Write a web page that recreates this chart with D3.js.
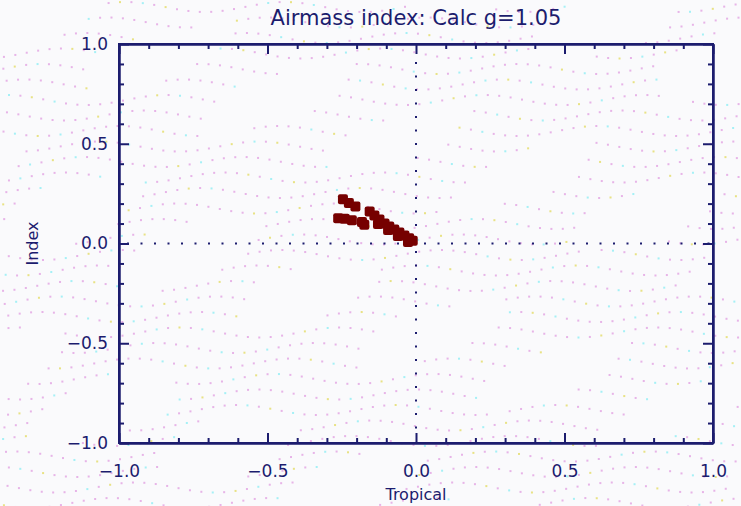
<!DOCTYPE html>
<html>
<head>
<meta charset="utf-8">
<script src="https://cdn.jsdelivr.net/npm/d3@7"></script>
<style>
  html, body { margin: 0; padding: 0; background: #fafafc; }
  svg { display: block; }
  text { font-family: "DejaVu Sans", sans-serif; fill: #1c1c6e; }
</style>
</head>
<body>
<svg id="chart" width="741" height="506"></svg>
<script>
// Tropical vs Index samples (airmass calculation, g = 1.05)
const tropical = [-0.246, -0.226, -0.204, -0.262, -0.240, -0.216, -0.182, -0.174, -0.156, -0.140,
                  -0.123, -0.128, -0.106, -0.090, -0.094, -0.073, -0.056, -0.061, -0.039,
                  -0.023, -0.027, -0.011];
const indexVals = [0.222, 0.203, 0.185, 0.127, 0.124, 0.116, 0.108, 0.094, 0.160, 0.140,
                   0.120, 0.098, 0.100, 0.085, 0.068, 0.070, 0.055, 0.038, 0.040,
                   0.026, 0.008, 0.014];
const xTicks = [-1.0, -0.5, 0.0, 0.5, 1.0];
const yTicks = [-1.0, -0.5, 0.0, 0.5, 1.0];
const titleText = "Airmass index: Calc g=1.05";
const xLabel = "Tropical";
const yLabel = "Index";

const W = 741, H = 506;
const frame = { left: 119, right: 713, top: 44, bottom: 443 };
const ink = "#1c1c6e";

const svg = d3.select("#chart");

// pastel stipple texture behind everything
const stipple = svg.append("g");
const stippleDots = [];
for (let r = 0; r < 34; r++) {
  for (let c = 0; c < 66; c++) {
    const x = 5 + c * 11.4 + 3 * Math.sin(r * 1.3);
    const y = 6 + r * 15.5 + 5 * Math.sin(c * 0.45 + r * 0.8);
    const w = Math.sin(c * 0.37 + r * 0.91) + Math.cos(c * 0.13 - r * 0.53);
    if (w > 0.6) continue;
    let col = "#e2a2e2";
    const k = Math.sin(c * 1.7 + r * 2.3);
    if (k > 0.93) col = "#90eef4";
    else if (k < -0.96) col = "#e4dc66";
    stippleDots.push({ x, y, col });
  }
}
stipple.selectAll("rect").data(stippleDots).join("rect")
  .attr("x", d => d.x).attr("y", d => d.y)
  .attr("width", 2).attr("height", 2)
  .attr("fill", d => d.col).attr("opacity", 0.8);

const x = d3.scaleLinear().domain([-1, 1]).range([frame.left, frame.right]);
const y = d3.scaleLinear().domain([-1, 1]).range([frame.bottom, frame.top]);

// dotted zero lines
const zero = svg.append("g").attr("fill", ink);
zero.selectAll("rect.h").data(d3.range(frame.left + 8, frame.right - 4, 13.5)).join("rect")
  .attr("class", "h").attr("x", d => d).attr("y", y(0) - 1).attr("width", 2).attr("height", 2);
zero.selectAll("rect.v").data(d3.range(frame.top + 18, frame.bottom - 4, 13.5)).join("rect")
  .attr("class", "v").attr("x", x(0) - 1).attr("y", d => d).attr("width", 2).attr("height", 2);

// data points
svg.append("g").selectAll("rect").data(tropical.map((t, i) => [t, indexVals[i]])).join("rect")
  .attr("x", d => x(d[0]) - 5).attr("y", d => y(d[1]) - 5)
  .attr("width", 10).attr("height", 10).attr("rx", 2)
  .attr("fill", "#760000");

// axes (ticks point inward, minor ticks every 0.1)
const fmt = d3.format(".1f");
const minor = d3.range(-10, 11).map(v => v / 10).filter(v => Math.abs(v * 2 - Math.round(v * 2)) > 1e-6);

function styleAxis(g) {
  g.selectAll("path.domain").attr("stroke", ink).attr("stroke-width", 2);
  g.selectAll(".tick line").attr("stroke", ink).attr("stroke-width", 2);
  g.selectAll(".tick text").attr("font-size", 17).attr("fill", ink)
    .text(function () { return d3.select(this).text().replace("−", "\u2212"); });
}

const gxb = svg.append("g").attr("transform", `translate(0,${frame.bottom})`)
  .call(d3.axisBottom(x).tickValues(xTicks).tickFormat(fmt).tickSize(-10).tickPadding(22).tickSizeOuter(0));
styleAxis(gxb);
const gxbm = svg.append("g").attr("transform", `translate(0,${frame.bottom})`)
  .call(d3.axisBottom(x).tickValues(minor).tickFormat("").tickSize(-5).tickSizeOuter(0));
styleAxis(gxbm);
const gxt = svg.append("g").attr("transform", `translate(0,${frame.top})`)
  .call(d3.axisTop(x).tickValues(xTicks).tickFormat("").tickSize(-10).tickSizeOuter(0));
styleAxis(gxt);
const gxtm = svg.append("g").attr("transform", `translate(0,${frame.top})`)
  .call(d3.axisTop(x).tickValues(minor).tickFormat("").tickSize(-5).tickSizeOuter(0));
styleAxis(gxtm);

const gyl = svg.append("g").attr("transform", `translate(${frame.left},0)`)
  .call(d3.axisLeft(y).tickValues(yTicks).tickFormat(fmt).tickSize(-10).tickPadding(11).tickSizeOuter(0));
styleAxis(gyl);
const gylm = svg.append("g").attr("transform", `translate(${frame.left},0)`)
  .call(d3.axisLeft(y).tickValues(minor).tickFormat("").tickSize(-5).tickSizeOuter(0));
styleAxis(gylm);
const gyr = svg.append("g").attr("transform", `translate(${frame.right},0)`)
  .call(d3.axisRight(y).tickValues(yTicks).tickFormat("").tickSize(-10).tickSizeOuter(0));
styleAxis(gyr);
const gyrm = svg.append("g").attr("transform", `translate(${frame.right},0)`)
  .call(d3.axisRight(y).tickValues(minor).tickFormat("").tickSize(-5).tickSizeOuter(0));
styleAxis(gyrm);

// frame outline
svg.append("rect")
  .attr("x", frame.left).attr("y", frame.top)
  .attr("width", frame.right - frame.left).attr("height", frame.bottom - frame.top)
  .attr("fill", "none").attr("stroke", ink).attr("stroke-width", 2);

// titles
svg.append("text").attr("x", (frame.left + frame.right) / 2).attr("y", 25)
  .attr("text-anchor", "middle").attr("font-size", 21).text(titleText);
svg.append("text").attr("x", (frame.left + frame.right) / 2).attr("y", 500)
  .attr("text-anchor", "middle").attr("font-size", 16).text(xLabel);
svg.append("text").attr("transform", `translate(38,${y(0)}) rotate(-90)`)
  .attr("text-anchor", "middle").attr("font-size", 16).text(yLabel);
</script>
</body>
</html>
